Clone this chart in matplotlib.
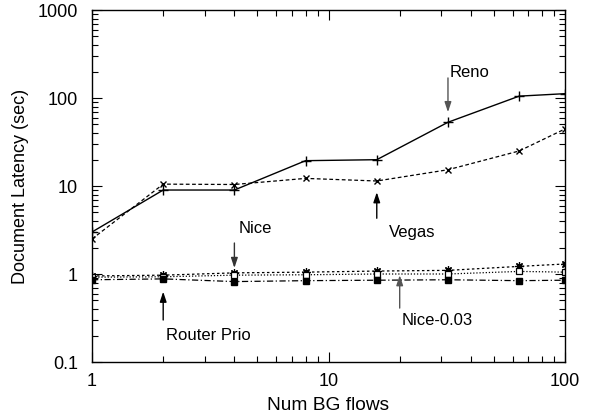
import matplotlib
matplotlib.use("Agg")
import matplotlib.pyplot as plt
from matplotlib.ticker import LogLocator, NullFormatter, FixedLocator, FixedFormatter

plt.rcParams['font.family'] = ['Liberation Sans', 'DejaVu Sans']

num_flows = [1, 2, 4, 8, 16, 32, 64, 100]
reno = [3.0, 9.0, 9.0, 19.4, 19.9, 53.0, 105.0, 112.0]
vegas = [2.5, 10.5, 10.4, 12.2, 11.4, 15.3, 25.0, 44.5]
nice = [0.95, 0.97, 1.03, 1.05, 1.08, 1.10, 1.22, 1.30]
nice_003 = [0.92, 0.93, 0.97, 0.98, 1.00, 1.00, 1.07, 1.05]
router_prio = [0.86, 0.88, 0.82, 0.84, 0.85, 0.86, 0.84, 0.85]

x_ticks = [1, 10, 100]
x_ticklabels = ['1', '10', '100']
y_ticks = [0.1, 1, 10, 100, 1000]
y_ticklabels = ['0.1', '1', '10', '100', '1000']

fig = plt.figure(figsize=(6.02, 4.15), dpi=100)
ax = fig.add_axes([92/602, 53/415, (565-92)/602, (362-10)/415])

ax.plot(num_flows, reno, color='black', lw=1.0, ls='-', marker='+', ms=6.5, mew=1.0)
ax.plot(num_flows, vegas, color='black', lw=0.9, ls=(0, (3, 2)), marker='x', ms=5, mew=1.0)
ax.plot(num_flows, nice, color='black', lw=0.9, ls=(0, (2, 2)), marker=(8, 2, 0), ms=6, mew=0.9)
ax.plot(num_flows, nice_003, color='black', lw=0.9, ls=(0, (1, 1.5)), marker='s', ms=5,
        mfc='white', mec='black', mew=0.9)
ax.plot(num_flows, router_prio, color='black', lw=0.9, ls=(0, (5, 2, 1, 2)), marker='s', ms=5,
        mfc='black', mec='black')

ax.set_xscale('log')
ax.set_yscale('log')
ax.set_xlim(1, 100)
ax.set_ylim(0.1, 1000)

ax.xaxis.set_major_locator(FixedLocator(x_ticks))
ax.xaxis.set_major_formatter(FixedFormatter(x_ticklabels))
ax.yaxis.set_major_locator(FixedLocator(y_ticks))
ax.yaxis.set_major_formatter(FixedFormatter(y_ticklabels))
ax.xaxis.set_minor_locator(LogLocator(base=10, subs=range(2, 10)))
ax.yaxis.set_minor_locator(LogLocator(base=10, subs=range(2, 10)))
ax.xaxis.set_minor_formatter(NullFormatter())
ax.yaxis.set_minor_formatter(NullFormatter())

ax.tick_params(which='both', direction='in', top=True, right=True, labelsize=13, width=0.8)
ax.tick_params(which='major', length=7)
ax.tick_params(axis='y', which='major', pad=10)
ax.tick_params(axis='x', which='major', pad=8)
ax.tick_params(which='minor', length=4)
for s in ax.spines.values():
    s.set_linewidth(1.0)

ax.set_xlabel('Num BG flows', fontsize=13.8, labelpad=5)
ax.set_ylabel('Document Latency (sec)', fontsize=13, labelpad=6)

def label(text, tx, ty, tail, tip, ax_x, color):
    ax.annotate('', xy=(ax_x, tip), xytext=(ax_x, tail),
                arrowprops=dict(arrowstyle='-|>,head_length=0.6,head_width=0.2',
                                color=color, lw=1.0, shrinkA=0, shrinkB=0))
    ax.text(tx, ty, text, fontsize=12, ha='left', va='center')

label('Reno', 32.5, 197, 169, 69, 32, '#555555')
label('Vegas', 18.0, 3.0, 4.3, 8.5, 16, 'black')
label('Nice', 4.15, 3.3, 2.25, 1.17, 4, '#333333')
label('Router Prio', 2.05, 0.2, 0.30, 0.63, 2, 'black')
label('Nice-0.03', 20.4, 0.30, 0.41, 0.97, 20, '#555555')

fig.savefig('out.png', dpi=100)
